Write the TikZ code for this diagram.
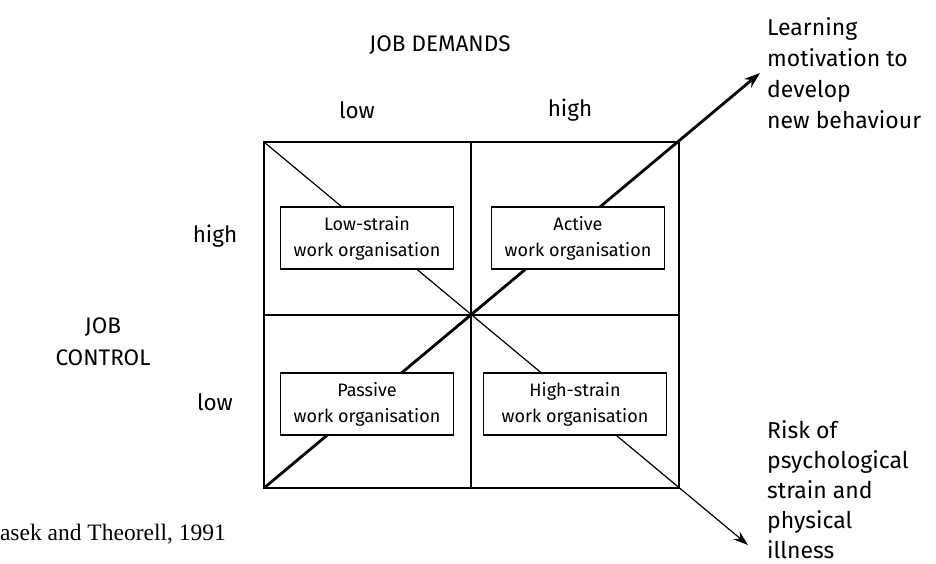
\documentclass[tikz,border=0pt]{standalone}
\usepackage{fontspec}
\setmainfont{Fira Sans}
\newfontfamily\citefont{Liberation Serif}
\usetikzlibrary{arrows.meta}

\begin{document}
\begin{tikzpicture}
  [
    x=1pt,y=-1pt,
    grid/.style={draw=black,line width=1.2pt},
    orgbox/.style={rectangle,draw=black,line width=1.1pt,fill=white,minimum width=173pt,minimum height=62pt,align=center,inner sep=2pt,font=\fontsize{18}{26}\selectfont},
    axislabel/.style={font=\fontsize{22.5}{32}\selectfont,align=center,inner sep=0pt},
    outcome/.style={font=\fontsize{23}{30.5}\selectfont,align=left,inner sep=0pt,anchor=north west},
    thinarrow/.style={line width=1.2pt,-{Stealth[length=15pt,width=10pt]}},
    thickarrow/.style={line width=2.8pt,-{Stealth[length=16pt,width=11pt]}},
  ]
  \useasboundingbox (0,0) rectangle (936,563);

  % corners of the grid
  \coordinate (tl) at (264,142);
  \coordinate (tr) at (679,142);
  \coordinate (bl) at (264,488);
  \coordinate (br) at (679,488);
  \coordinate (tm) at (471,142);
  \coordinate (bm) at (471,488);
  \coordinate (lm) at (264,315);
  \coordinate (rm) at (679,315);
  \coordinate (riskend) at (748,545);
  \coordinate (learnend) at (760,73);

  % grid
  \draw [grid] (tl) rectangle (br);
  \draw [grid] (tm) -- (bm);
  \draw [grid] (lm) -- (rm);

  % diagonals
  \draw [thinarrow] (tl) -- (riskend);
  \draw [thickarrow] (bl) -- (learnend);

  % quadrants
  \node (lowstrain) at (367,238) [orgbox] {Low-strain\\work organisation};
  \node (active) at (578,238) [orgbox] {Active\\work organisation};
  \node (passive) at (367,404) [orgbox] {Passive\\work organisation};
  \node (highstrain) at (575,404) [orgbox,minimum width=183pt] {High-strain\\work organisation};

  % axes
  \node (demands) at (440,45) [axislabel] {JOB DEMANDS};
  \node (dlow) at (357,110) [axislabel] {low};
  \node (dhigh) at (570,110) [axislabel] {high};
  \node (control) at (103,342) [axislabel] {JOB\\CONTROL};
  \node (chigh) at (215,236) [axislabel] {high};
  \node (clow) at (215,402) [axislabel] {low};

  % outcomes
  \node (learning) at (767,17) [outcome,font=\fontsize{23}{31}\selectfont] {Learning\\motivation to\\develop\\new behaviour};
  \node (risk) at (767,420) [outcome,font=\fontsize{23}{30}\selectfont] {Risk of\\psychological\\strain and\\physical\\illness};

  \node (source) at (226,540) [anchor=base east,inner sep=0pt,font=\citefont\fontsize{23.5}{28}\selectfont] {asek and Theorell, 1991};
\end{tikzpicture}
\end{document}
